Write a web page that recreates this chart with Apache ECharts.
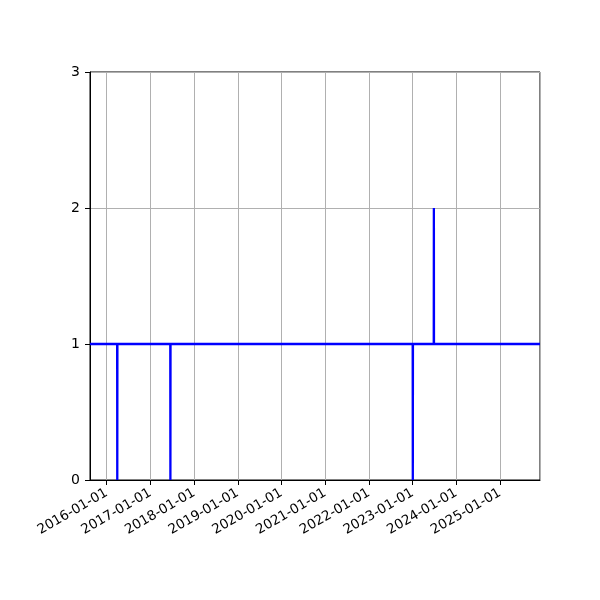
<!DOCTYPE html>
<html>
<head>
<meta charset="utf-8">
<script src="https://cdn.jsdelivr.net/npm/echarts@6/dist/echarts.min.js"></script>
<style>
 html,body{margin:0;padding:0;background:#fff;}
 #main{width:600px;height:600px;}
</style>
</head>
<body>
<div id="main"></div>
<script>
 // 日期与数量
 var dates = ['2015-08-15','2016-03-29','2016-03-30','2016-03-31','2017-06-16','2017-06-17','2017-06-18',
              '2023-01-02','2023-01-03','2023-01-04','2023-06-27','2023-06-28','2023-06-29','2025-12-01'];
 var counts = [1,1,0,1,1,0,1,1,0,1,1,2,1,1];
 var xMin = '2015-08-15';
 var xMax = '2025-12-01';
 var yTicks = [0,1,2,3];

 var myChart = echarts.init(document.getElementById('main'));
 var seriesData = [];
 for(var i=0;i<dates.length;i++){
	seriesData.push([dates[i],counts[i]]);
 }
 var option = {
	animation:false,
	grid: {
		left: 90,
		right: 60,
		top: 72,
		bottom: 120,
		show: true,
		borderColor: '#000',
		borderWidth: 1
	},
	xAxis: {
		type: 'time',
		min: xMin,
		max: xMax,
		splitNumber: 10,
		axisLine: {
			lineStyle:{ color: '#000', width: 1 }
		},
		axisTick: { show: true, length: 5, lineStyle:{ color:'#000' } },
		minorTick: { show: false },
		axisLabel: {
			rotate: 30,
			color: '#000',
			fontSize: 13.5,
			fontFamily: 'DejaVu Sans',
			margin: 12,
			hideOverlap: false,
			showMinLabel: false,
			showMaxLabel: false,
			formatter: function(v){
				return echarts.time.format(v,'{yyyy}-{MM}-{dd}',false);
			}
		},
		splitLine: {
			show: true,
			lineStyle:{ color: '#b0b0b0', width: 1 }
		}
	},
	yAxis: {
		type: 'value',
		min: yTicks[0],
		max: yTicks[yTicks.length-1],
		interval: 1,
		axisLine: { show: true, lineStyle:{ color: '#000', width: 1 } },
		axisTick: { show: true, length: 5, lineStyle:{ color:'#000' } },
		axisLabel: { color: '#000', fontSize: 14, fontFamily: 'DejaVu Sans', margin: 10 },
		splitLine: {
			show: true,
			lineStyle:{ color: '#b0b0b0', width: 1 }
		}
	},
	series: [{
		type: 'line',
		data: seriesData,
		showSymbol: false,
		symbol: 'none',
		lineStyle: { color: '#0000ff', width: 2.3 },
		z: 3
	}]
 };
 myChart.setOption(option,true);
</script>
</body>
</html>
